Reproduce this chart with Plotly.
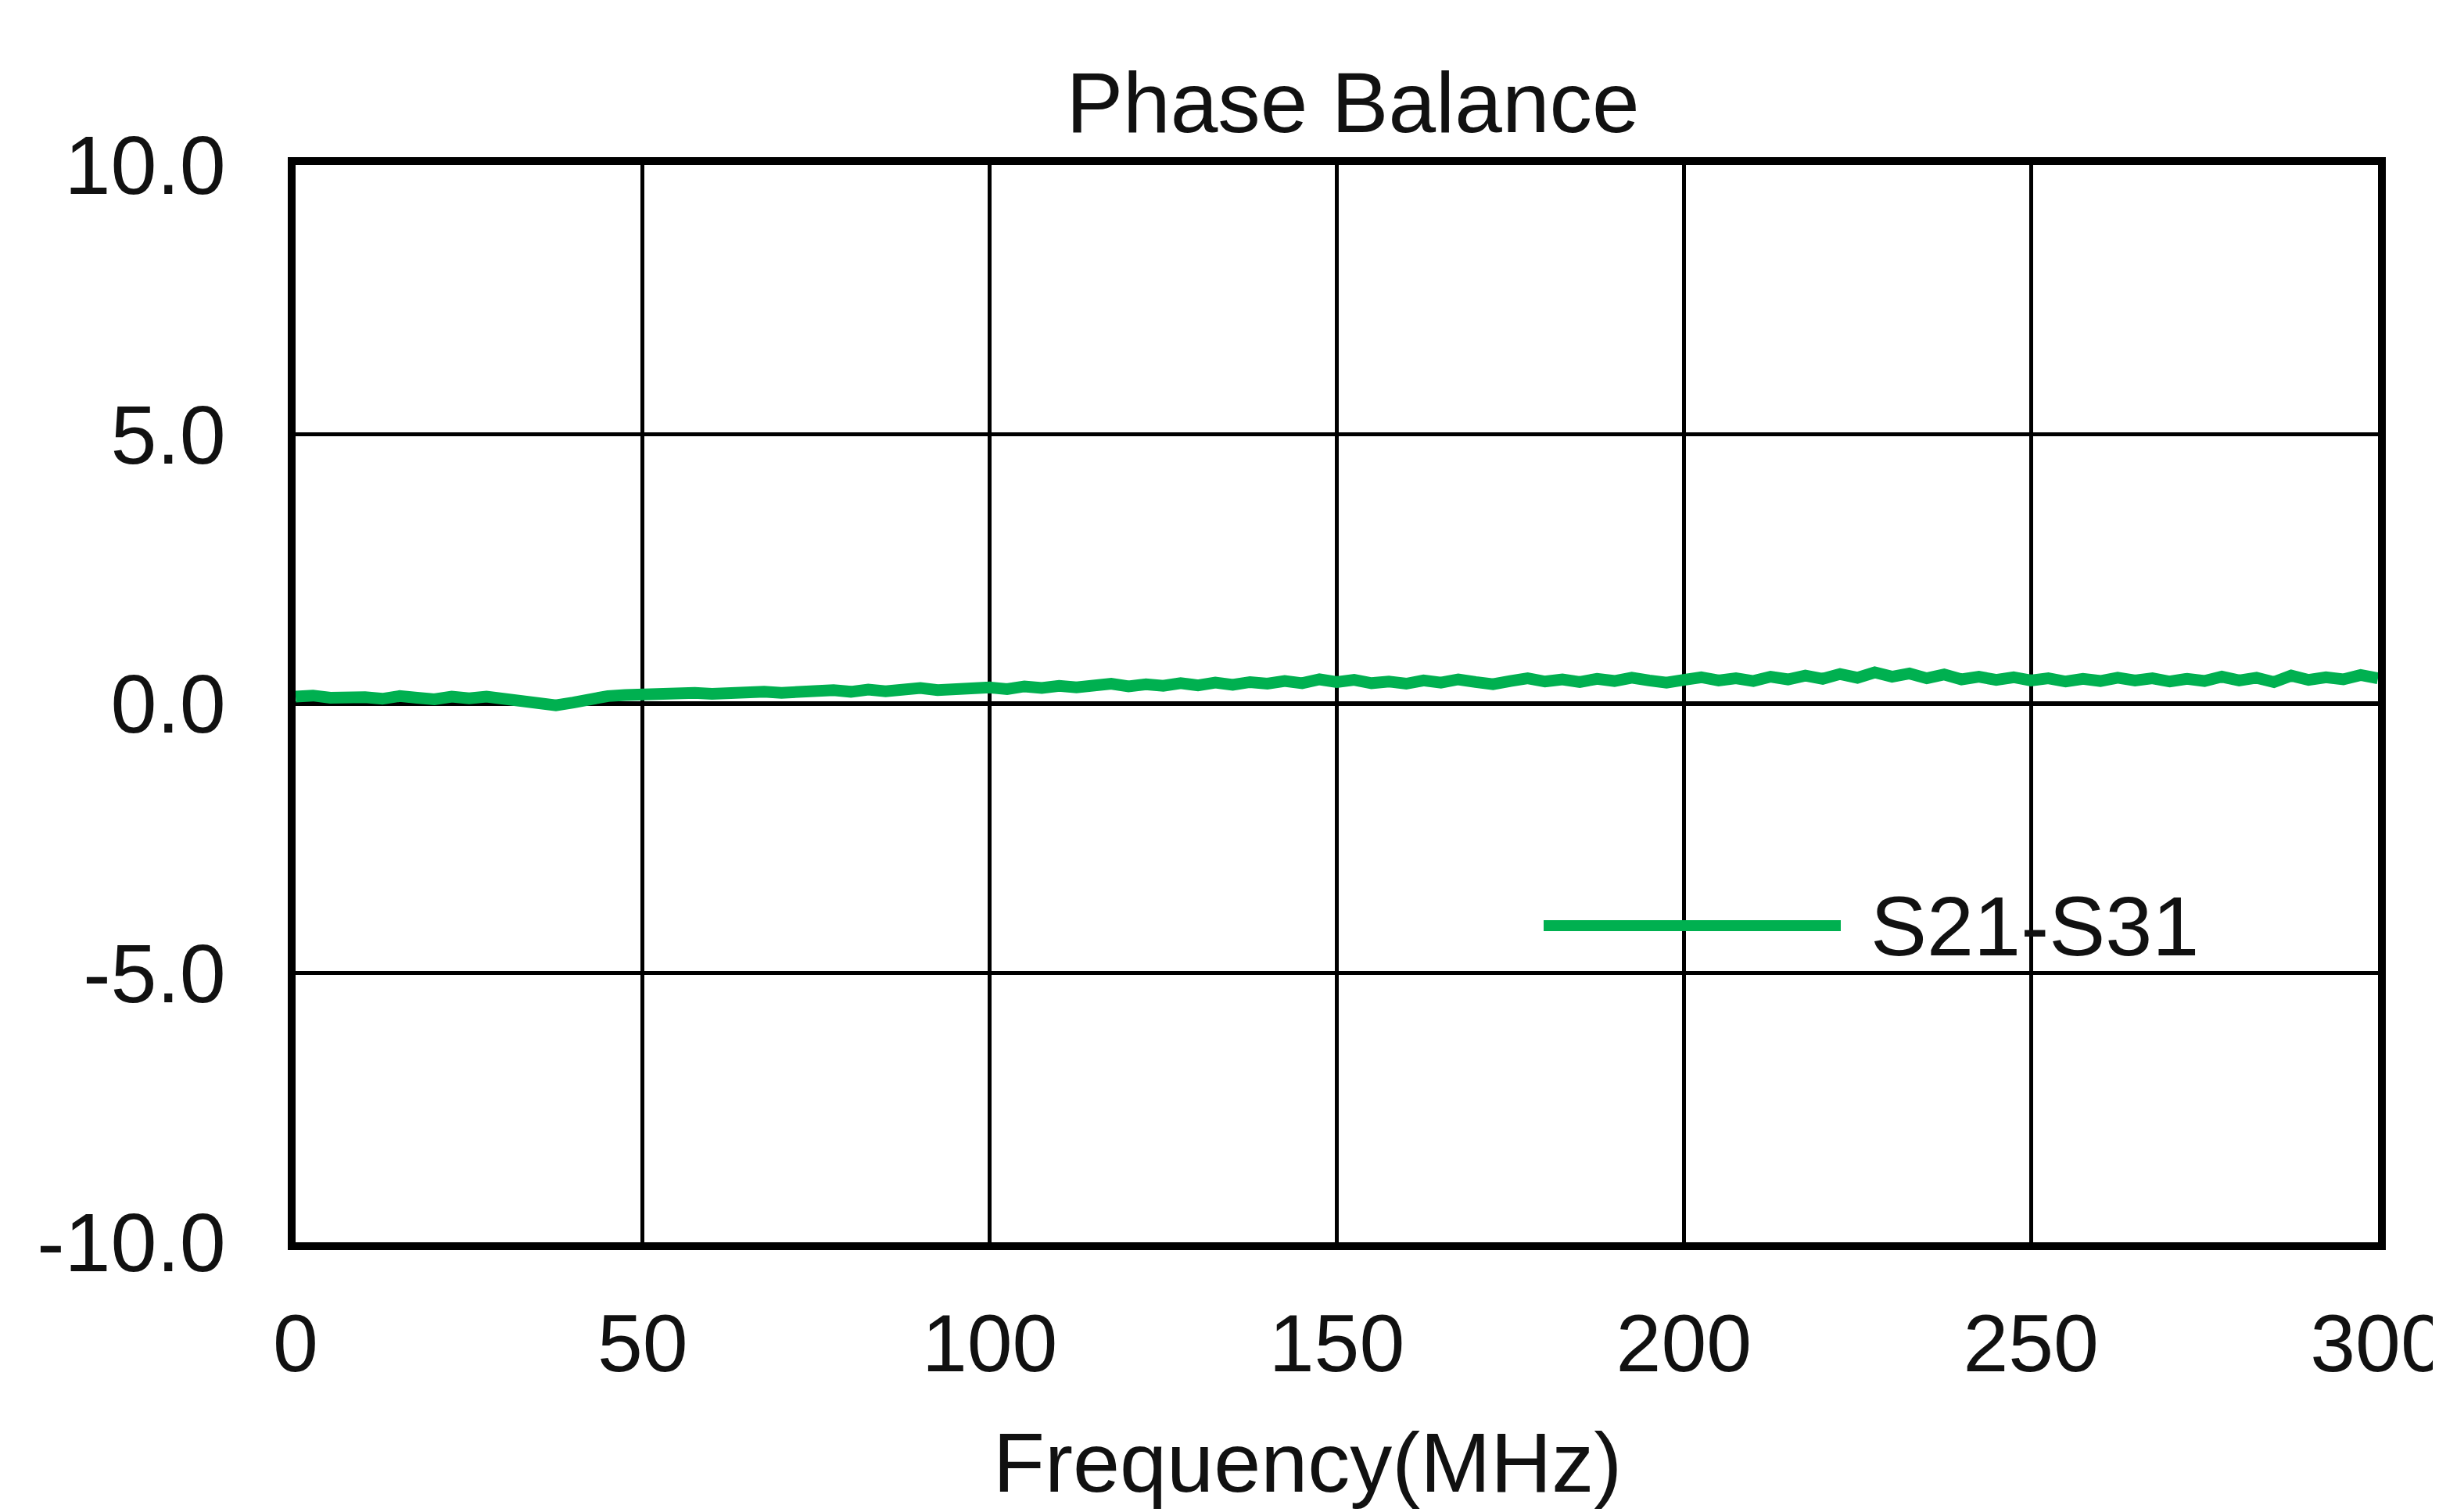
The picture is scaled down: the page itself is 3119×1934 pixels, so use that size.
import plotly.graph_objects as go

freq_mhz = [i * 2.5 for i in range(121)]
phase_diff = [
    0.13, 0.15, 0.11, 0.14, 0.12, 0.09, 0.14, 0.11, 0.08, 0.13,
    0.10, 0.13, 0.10, 0.06, 0.00, -0.03, 0.02, 0.09, 0.14, 0.16,
    0.18, 0.19, 0.17, 0.20, 0.18, 0.21, 0.19, 0.22, 0.20, 0.23,
    0.21, 0.25, 0.22, 0.26, 0.23, 0.27, 0.29, 0.25, 0.28, 0.26,
    0.30, 0.27, 0.32, 0.29, 0.33, 0.30, 0.34, 0.37, 0.32, 0.36,
    0.33, 0.38, 0.34, 0.39, 0.35, 0.40, 0.37, 0.42, 0.38, 0.45,
    0.40, 0.44, 0.38, 0.41, 0.37, 0.43, 0.39, 0.45, 0.40, 0.36,
    0.42, 0.47, 0.41, 0.45, 0.40, 0.46, 0.42, 0.48, 0.43, 0.39,
    0.44, 0.49, 0.43, 0.47, 0.42, 0.50, 0.45, 0.52, 0.46, 0.55,
    0.48, 0.58, 0.50, 0.56, 0.47, 0.54, 0.45, 0.50, 0.44, 0.49,
    0.43, 0.47, 0.41, 0.46, 0.42, 0.48, 0.43, 0.47, 0.41, 0.46,
    0.42, 0.50, 0.43, 0.48, 0.40, 0.52, 0.44, 0.49, 0.45, 0.53,
    0.47,
]
series_name = "S21-S31"
x_ticks = [0, 50, 100, 150, 200, 250, 300]
y_ticks = [-10, -5, 0, 5, 10]

FONT = "Liberation Sans, Arial, sans-serif"
GREEN = "#00B050"
TXT = "#111111"

L, R, T, B = 370, 3033, 203, 1581
PW, PH = R - L, B - T

fig = go.Figure()
fig.add_trace(go.Scatter(
    x=freq_mhz, y=phase_diff, mode="lines", name=series_name,
    line=dict(color=GREEN, width=15), showlegend=False,
))

# legend sample (paper-anchored decoration)
leg_y = (B - 1176) / PH
fig.add_shape(type="line", xref="paper", yref="paper",
              x0=(1966 - L) / PW, x1=(2346 - L) / PW,
              y0=leg_y, y1=leg_y,
              line=dict(color=GREEN, width=14))
fig.add_annotation(text=series_name, xref="paper", yref="paper",
                   x=(2382 - L) / PW, y=leg_y,
                   xanchor="left", yanchor="middle", showarrow=False,
                   font=dict(family=FONT, size=108, color=TXT))

fig.add_annotation(text="Frequency(MHz)", xref="paper", yref="paper",
                   x=(1664 - L) / PW, y=(B - 1862) / PH,
                   xanchor="center", yanchor="middle", showarrow=False,
                   font=dict(family=FONT, size=108, color=TXT))

fig.update_layout(
    width=3119, height=1934,
    margin=dict(l=L, r=3119 - R, t=T, b=1934 - B, autoexpand=False),
    paper_bgcolor="white", plot_bgcolor="white",
    title=dict(text="Phase Balance", x=1722 / 3119, xanchor="center",
               y=1 - 123 / 1934, yanchor="middle", yref="container",
               font=dict(family=FONT, size=109, color=TXT)),
    font=dict(family=FONT, size=104, color=TXT),
)
fig.update_xaxes(
    range=[0, 300], tickvals=x_ticks, ticktext=[str(v) for v in x_ticks],
    showgrid=True, gridcolor="black", gridwidth=5,
    showline=True, linecolor="black", linewidth=10, mirror=True,
    zeroline=False, ticks="", ticklabelstandoff=30,
    ticklabeloverflow="allow", automargin=False,
    tickfont=dict(family=FONT, size=104, color=TXT),
)
fig.update_yaxes(
    range=[-10, 10], tickvals=y_ticks, ticktext=[f"{v:.1f}" for v in y_ticks],
    showgrid=True, gridcolor="black", gridwidth=5,
    showline=True, linecolor="black", linewidth=10, mirror=True,
    zeroline=True, zerolinecolor="black", zerolinewidth=6, ticks="",
    ticklabelstandoff=58, automargin=False,
    tickfont=dict(family=FONT, size=106, color=TXT),
)

fig.write_html("out.html")
